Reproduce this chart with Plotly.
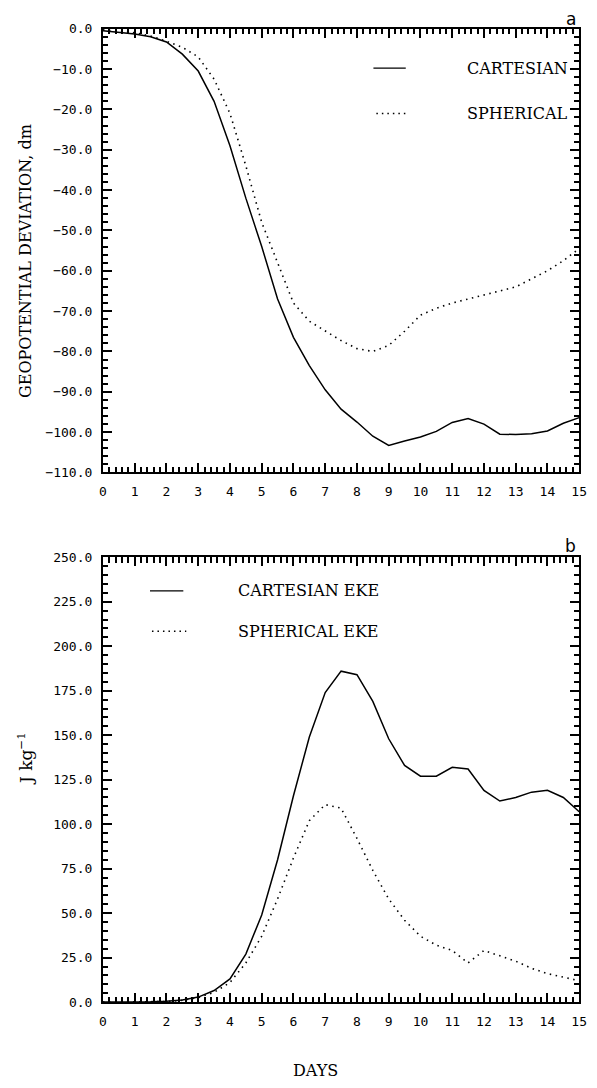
import plotly.graph_objects as go

days = [0, 0.5, 1, 1.5, 2, 2.5, 3, 3.5, 4, 4.5, 5, 5.5, 6, 6.5, 7, 7.5, 8, 8.5, 9, 9.5,
        10, 10.5, 11, 11.5, 12, 12.5, 13, 13.5, 14, 14.5, 15]

geo_cartesian = [-0.5, -0.9, -1.3, -2.0, -3.3, -6.3, -10.5, -18, -29, -42, -54, -67, -76.5, -83.5,
                 -89.5, -94.3, -97.5, -101, -103.3, -102.2, -101.2, -99.8, -97.6, -96.6, -98,
                 -100.5, -100.6, -100.4, -99.7, -97.8, -96.4]
geo_spherical = [-0.3, -0.6, -1.0, -1.8, -3.1, -4.6, -7.0, -12.5, -21, -34, -48, -58, -68, -72.5,
                 -75, -77.3, -79.3, -80, -78.5, -75, -71, -69.3, -68, -67, -66, -65, -64, -62,
                 -60, -57.5, -54.5]

eke_cartesian = [0, 0, 0.1, 0.2, 0.5, 1.2, 2.8, 6.5, 13, 27, 49, 80, 116, 149, 174, 186, 184,
                 169, 148, 133, 127, 127, 132, 131, 119, 113, 115, 118, 119, 115, 107]
eke_spherical = [0, 0, 0, 0.1, 0.3, 1, 2.5, 5.5, 11, 22, 37, 58, 81, 102, 111, 109, 92, 74, 58,
                 46, 37, 32, 29, 22, 29, 26, 23, 19, 16, 14, 12]

W, H = 597, 1088
XL, XR = 101, 587
TOP_T, TOP_B = 22, 472
BOT_T, BOT_B = 558, 1009


def px(x):
    return x / W


def py(y):
    return 1 - y / H


mono = "DejaVu Sans Mono"
serif = "DejaVu Serif"
dotdash = "1.5px,4.5px"

fig = go.Figure()
fig.add_trace(go.Scatter(x=days, y=geo_cartesian, mode="lines",
                         line=dict(color="black", width=1.5), xaxis="x", yaxis="y"))
fig.add_trace(go.Scatter(x=days, y=geo_spherical, mode="lines",
                         line=dict(color="black", width=1.6, dash=dotdash), xaxis="x", yaxis="y"))
fig.add_trace(go.Scatter(x=days, y=eke_cartesian, mode="lines",
                         line=dict(color="black", width=1.5), xaxis="x2", yaxis="y2"))
fig.add_trace(go.Scatter(x=days, y=eke_spherical, mode="lines",
                         line=dict(color="black", width=1.6, dash=dotdash), xaxis="x2", yaxis="y2"))

tickfont = dict(family=mono, size=13, color="black")
MAJ_LEN, MAJ_W = 9, 2
MIN_LEN, MIN_W = 5.5, 1.5


def minor(dt):
    return dict(tickmode="linear", tick0=0, dtick=dt, ticks="inside", ticklen=MIN_LEN,
                tickwidth=MIN_W, tickcolor="black", showgrid=False)


xcommon = dict(range=[0, 15], tickmode="linear", dtick=1, tick0=0, ticks="inside",
               ticklen=MAJ_LEN, tickwidth=MAJ_W, tickcolor="black", showline=True,
               linecolor="black", linewidth=2, mirror="ticks", showgrid=False, zeroline=False,
               tickfont=tickfont, ticklabelstandoff=6, minor=minor(0.2),
               domain=[px(XL), px(XR)])

ycommon = dict(ticks="inside", tickmode="linear", ticklen=MAJ_LEN, tickwidth=MAJ_W,
               tickcolor="black", showline=True, linecolor="black", linewidth=2,
               mirror="ticks", showgrid=False, zeroline=False, tickformat=".1f",
               tickfont=tickfont, ticklabelstandoff=6)

fig.update_layout(
    width=W, height=H,
    margin=dict(l=0, r=0, t=0, b=0),
    paper_bgcolor="white", plot_bgcolor="white",
    showlegend=False,
    xaxis=dict(**xcommon, anchor="y"),
    yaxis=dict(**ycommon, range=[-110, 0], dtick=10, tick0=0, minor=minor(2),
               domain=[py(TOP_B), py(TOP_T)], anchor="x"),
    xaxis2=dict(**xcommon, anchor="y2"),
    yaxis2=dict(**ycommon, range=[0, 250], dtick=25, tick0=0, minor=minor(5),
                domain=[py(BOT_B), py(BOT_T)], anchor="x2"),
)

shapes = [
    dict(type="line", xref="paper", yref="paper", x0=px(377), x1=px(410), y0=py(62), y1=py(62),
         line=dict(color="black", width=1.2)),
    dict(type="line", xref="paper", yref="paper", x0=px(380), x1=px(413), y0=py(108), y1=py(108),
         line=dict(color="black", width=1.6, dash="1.5px,4px")),
    dict(type="line", xref="paper", yref="paper", x0=px(149), x1=px(183), y0=py(592), y1=py(592),
         line=dict(color="black", width=1.2)),
    dict(type="line", xref="paper", yref="paper", x0=px(151), x1=px(186), y0=py(633), y1=py(633),
         line=dict(color="black", width=1.6, dash="1.5px,4px")),
]
fig.update_layout(shapes=shapes)

serif_font = dict(family=serif, size=16, color="black")
ann = [
    dict(text="CARTESIAN", x=px(578), y=py(62), xanchor="right", yanchor="middle",
         font=serif_font),
    dict(text="SPHERICAL", x=px(578), y=py(108), xanchor="right", yanchor="middle",
         font=serif_font),
    dict(text="CARTESIAN EKE", x=px(237), y=py(592), xanchor="left", yanchor="middle",
         font=serif_font),
    dict(text="SPHERICAL EKE", x=px(237), y=py(633), xanchor="left", yanchor="middle",
         font=serif_font),
    dict(text="a", x=px(586), y=py(12), xanchor="right", yanchor="middle",
         font=dict(family="DejaVu Sans", size=17, color="black")),
    dict(text="b", x=px(586), y=py(547), xanchor="right", yanchor="middle",
         font=dict(family="DejaVu Sans", size=17, color="black")),
    dict(text="GEOPOTENTIAL DEVIATION, dm", x=px(22), y=py(258), textangle=-90,
         xanchor="center", yanchor="middle", font=dict(family=serif, size=16, color="black")),
    dict(text="J kg<sup>−1</sup>", x=px(22), y=py(762), textangle=-90,
         xanchor="center", yanchor="middle", font=dict(family=serif, size=17, color="black")),
    dict(text="DAYS", x=px(318), y=py(1078), xanchor="center", yanchor="middle",
         font=dict(family=serif, size=16, color="black")),
]
for a in ann:
    a.update(xref="paper", yref="paper", showarrow=False)
fig.update_layout(annotations=ann)

fig.write_html("out.html")
